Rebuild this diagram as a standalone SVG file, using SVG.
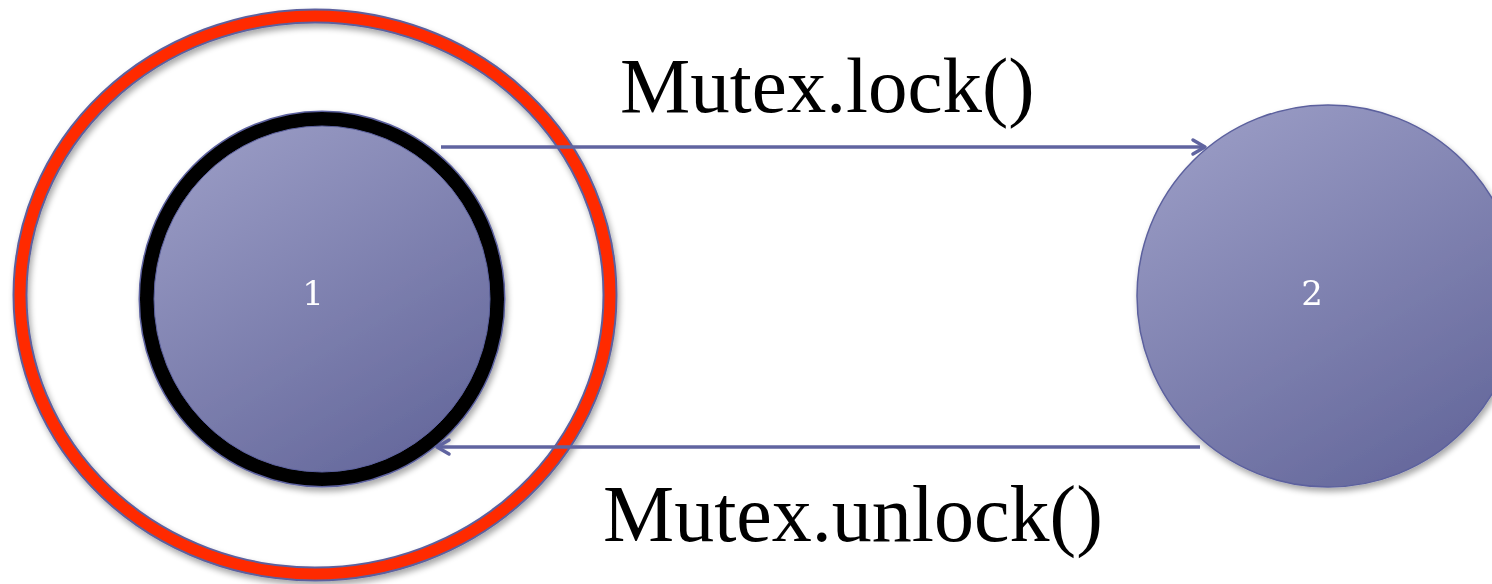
<svg xmlns="http://www.w3.org/2000/svg" width="1492" height="584" viewBox="0 0 1492 584">
<defs>
<linearGradient id="nodeFill" x1="0.2" y1="0" x2="0.8" y2="1">
<stop offset="0" stop-color="#9a9cc5"/>
<stop offset="1" stop-color="#63669a"/>
</linearGradient>
<filter id="shadow" x="-10%" y="-10%" width="125%" height="125%">
<feGaussianBlur in="SourceAlpha" stdDeviation="3"/>
<feOffset dx="2" dy="4" result="b"/>
<feComponentTransfer><feFuncA type="linear" slope="0.35"/></feComponentTransfer>
<feMerge><feMergeNode/><feMergeNode in="SourceGraphic"/></feMerge>
</filter>
<marker id="arrow" viewBox="0 0 20 20" refX="17" refY="10" markerWidth="20" markerHeight="20" markerUnits="userSpaceOnUse" orient="auto">
<path d="M5,3 L17,10 L5,17" fill="none" stroke="#6064a0" stroke-width="3.5" stroke-linecap="round" stroke-linejoin="round"/>
</marker>
</defs>
<style>
.node{fill:url(#nodeFill);stroke:#5c619e;stroke-width:1.5;}
.lbl{font-family:"DejaVu Serif","Liberation Serif",serif;fill:#ffffff;font-size:34px;text-anchor:middle;}
.big{font-family:"Liberation Serif",serif;fill:#000000;font-size:80px;}
.conn{stroke:#6064a0;stroke-width:3.5;fill:none;}
</style>
<g id="outer-ring" filter="url(#shadow)">
<ellipse cx="315" cy="295" rx="295" ry="279" fill="none" stroke="#5c619e" stroke-width="15"/>
<ellipse cx="315" cy="295" rx="295" ry="279" fill="none" stroke="#ff2a00" stroke-width="11"/>
</g>
<g id="node1" filter="url(#shadow)">
<ellipse cx="322" cy="299" rx="175" ry="180" fill="none" stroke="#5c619e" stroke-width="17"/>
<ellipse cx="322" cy="299" rx="175" ry="180" class="node" style="stroke:#000;stroke-width:14"/>
<ellipse cx="322" cy="299" rx="168" ry="173" fill="none" stroke="#5c619e" stroke-width="1"/>
<text x="313" y="305" class="lbl">1</text>
</g>
<g id="node2" filter="url(#shadow)">
<circle cx="1328" cy="296" r="191" class="node"/>
<text x="1312" y="305" class="lbl">2</text>
</g>
<g id="connectors">
<line x1="441" y1="147" x2="1205" y2="147" class="conn" marker-end="url(#arrow)"/>
<line x1="1200" y1="447" x2="437" y2="447" class="conn" marker-end="url(#arrow)"/>
</g>
<g id="labels">
<text x="620" y="112" class="big" style="font-size:79px">Mutex.lock()</text>
<text x="603" y="541" class="big">Mutex.unlock()</text>
</g>
</svg>
